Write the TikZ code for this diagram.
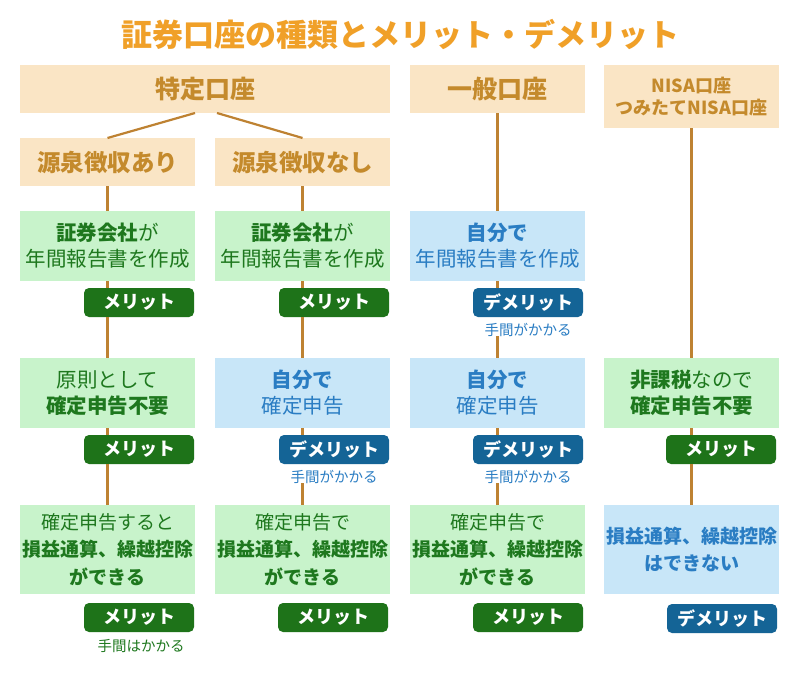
\documentclass[tikz,border=0pt]{standalone}
\usepackage{fontspec}
\setmainfont{Noto Sans CJK JP}
\usetikzlibrary{positioning}

\definecolor{titleorange}{HTML}{F0A028}
\definecolor{headbg}{HTML}{FAE5C5}
\definecolor{headtext}{HTML}{C48A2C}
\definecolor{linkbrown}{HTML}{BE8232}
\definecolor{goodbg}{HTML}{C8F3CB}
\definecolor{goodtext}{HTML}{1E781E}
\definecolor{badbg}{HTML}{C8E6F8}
\definecolor{badtext}{HTML}{2A7DC3}
\definecolor{meritbg}{HTML}{1E7319}
\definecolor{demeritbg}{HTML}{146496}

\begin{document}
\begin{tikzpicture}[
    x=1pt, y=1pt,
    every node/.style={inner sep=0pt, outer sep=0pt},
    head/.style={rectangle, fill=headbg, text=headtext, align=center, minimum width=175pt, minimum height=48pt, font=\bfseries\fontsize{25}{29}\selectfont},
    box/.style={rectangle, align=center, minimum width=175pt, minimum height=70pt, font=\fontsize{20.5}{26}\selectfont},
    tallbox/.style={minimum height=89pt, font=\fontsize{19}{27.5}\selectfont},
    goodbox/.style={box, fill=goodbg, text=goodtext},
    badbox/.style={box, fill=badbg, text=badtext},
    badge/.style={rectangle, rounded corners=5pt, text=white, minimum width=110pt, minimum height=29pt, font=\bfseries\fontsize{18}{20}\selectfont},
    merit/.style={badge, fill=meritbg},
    demerit/.style={badge, fill=demeritbg},
    note/.style={font=\fontsize{14.5}{17}\selectfont},
    goodnote/.style={note, text=goodtext},
    badnote/.style={note, text=badtext},
    link/.style={draw=linkbrown, line width=2.2pt}
]
\path [fill=white, use as bounding box] (0,0) rectangle (800,-680);

% Title
\node (title) at (400,-35) [font=\bfseries\fontsize{31}{36}\selectfont, text=titleorange] {証券口座の種類とメリット・デメリット};

% Accounts
\node (toku) at (205,-89) [head, minimum width=370pt] {特定口座};
\node (ippan) [head, right=20pt of toku] {一般口座};
\node (nisa) [head, minimum height=63pt, font=\bfseries\fontsize{18}{22}\selectfont, below right=0pt and 19pt of ippan.north east] {NISA口座\\つみたてNISA口座};
\node (sub1) [head, font=\bfseries\fontsize{23.5}{28}\selectfont, below right=25pt and 0pt of toku.south west] {源泉徴収あり};
\node (sub2) [head, font=\bfseries\fontsize{23.5}{28}\selectfont, below left=25pt and 0pt of toku.south east] {源泉徴収なし};

% Tokutei, with withholding
\node (r1a) [goodbox, below=25pt of sub1] {\textbf{証券会社}が\\年間報告書を作成};
\node (m1a) [merit, below left=7pt and 1pt of r1a.south east] {メリット};
\node (r2a) [goodbox, below=77pt of r1a] {原則として\\\textbf{確定申告不要}};
\node (m2a) [merit, below left=7pt and 1pt of r2a.south east] {メリット};
\node (r3a) [goodbox, tallbox, below=77pt of r2a] {確定申告すると\\\textbf{損益通算、繰越控除}\\\textbf{ができる}};
\node (m3a) [merit, below left=9pt and 1pt of r3a.south east] {メリット};
\node (n3a) [goodnote, below=7pt of m3a, xshift=2pt] {手間はかかる};

% Tokutei, without withholding
\node (r1b) [goodbox, below=25pt of sub2] {\textbf{証券会社}が\\年間報告書を作成};
\node (m1b) [merit, below left=7pt and 1pt of r1b.south east] {メリット};
\node (r2b) [badbox, below=77pt of r1b] {\textbf{自分で}\\確定申告};
\node (d2b) [demerit, below left=7pt and 1pt of r2b.south east] {デメリット};
\node (n2b) [badnote, below=6pt of d2b] {手間がかかる};
\node (r3b) [goodbox, tallbox, below=77pt of r2b] {確定申告で\\\textbf{損益通算、繰越控除}\\\textbf{ができる}};
\node (m3b) [merit, below left=9pt and 2pt of r3b.south east] {メリット};

% Ippan
\node (r1c) [badbox, below=98pt of ippan] {\textbf{自分で}\\年間報告書を作成};
\node (d1c) [demerit, below left=7pt and 2pt of r1c.south east] {デメリット};
\node (n1c) [badnote, below=6pt of d1c] {手間がかかる};
\node (r2c) [badbox, below=77pt of r1c] {\textbf{自分で}\\確定申告};
\node (d2c) [demerit, below left=7pt and 2pt of r2c.south east] {デメリット};
\node (n2c) [badnote, below=6pt of d2c] {手間がかかる};
\node (r3c) [goodbox, tallbox, below=77pt of r2c] {確定申告で\\\textbf{損益通算、繰越控除}\\\textbf{ができる}};
\node (m3c) [merit, below left=9pt and 2pt of r3c.south east] {メリット};

% NISA
\node (r2d) [goodbox, below=230pt of nisa] {\textbf{非課税}なので\\\textbf{確定申告不要}};
\node (m2d) [merit, below left=7pt and 3pt of r2d.south east] {メリット};
\node (r3d) [badbox, tallbox, below=77pt of r2d] {\textbf{損益通算、繰越控除}\\\textbf{はできない}};
\node (d3d) [demerit, below left=10pt and 2pt of r3d.south east] {デメリット};

% Connections
\draw [link] ([xshift=-10pt]toku.south) -- (sub1.north);
\draw [link] ([xshift=12pt]toku.south) -- (sub2.north);

\draw [link] (sub1) -- (r1a);
\draw [link] (r1a.south) -- (r1a.south |- m1a.north);
\draw [link] (r1a.south |- m1a.south) -- (r2a.north);
\draw [link] (r2a.south) -- (r2a.south |- m2a.north);
\draw [link] (r2a.south |- m2a.south) -- (r3a.north);

\draw [link] (sub2) -- (r1b);
\draw [link] (r1b.south) -- (r1b.south |- m1b.north);
\draw [link] (r1b.south |- m1b.south) -- (r2b.north);
\draw [link] (r2b.south) -- (r2b.south |- d2b.north);
\draw [link] (r2b.south |- n2b.south) -- (r3b.north);

\draw [link] (ippan) -- (r1c);
\draw [link] (r1c.south) -- (r1c.south |- d1c.north);
\draw [link] (r1c.south |- n1c.south) -- (r2c.north);
\draw [link] (r2c.south) -- (r2c.south |- d2c.north);
\draw [link] (r2c.south |- n2c.south) -- (r3c.north);

\draw [link] (nisa) -- (r2d);
\draw [link] (r2d.south) -- (r2d.south |- m2d.north);
\draw [link] (r2d.south |- m2d.south) -- (r3d.north);

\end{tikzpicture}
\end{document}
